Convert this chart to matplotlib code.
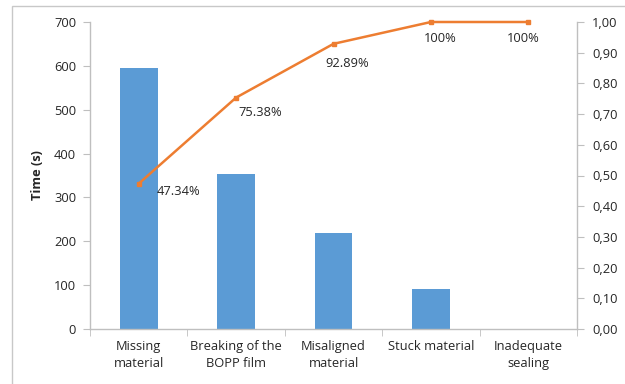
import matplotlib
matplotlib.use("Agg")
import matplotlib.pyplot as plt
from matplotlib.ticker import FuncFormatter, FixedLocator
from matplotlib.patches import Rectangle

categories = ["Missing\nmaterial", "Breaking of the\nBOPP film", "Misaligned\nmaterial",
              "Stuck material", "Inadequate\nsealing"]
times = [596, 353, 218, 92, 0]
cumulative = [0.4734, 0.7538, 0.9289, 1.0, 1.0]
cum_labels = ["47.34%", "75.38%", "92.89%", "100%", "100%"]
left_ticks = [0, 100, 200, 300, 400, 500, 600, 700]
right_ticks = [0.0, 0.1, 0.2, 0.3, 0.4, 0.5, 0.6, 0.7, 0.8, 0.9, 1.0]

# label offsets (points) relative to each marker
label_offsets = [(29, -6), (17, -11), (10, -14), (7, -12), (-4, -12)]

plt.rcParams['font.family'] = ['Open Sans', 'DejaVu Sans']
TXT = "#262626"
AX = "#BFBFBF"
FS = 9.3

fig = plt.figure(figsize=(6.25, 3.84), dpi=100)
fig.patches.append(Rectangle((12 / 625, -0.1), 2, 1.1 - 6 / 384, transform=fig.transFigure,
                             fill=False, edgecolor="#C8C8C8", linewidth=1.0))

ax = fig.add_axes([90 / 625, 1 - 329 / 384, (577 - 90) / 625, (329 - 22) / 384])
x = list(range(len(categories)))
ax.bar(x, times, width=0.39, color="#5B9BD5", zorder=2)
ax.set_xlim(-0.5, len(categories) - 0.5)
ax.set_ylim(0, 700)
ax.set_yticks(left_ticks)
ax.set_xticks(x)
ax.set_xticklabels(categories, fontsize=FS, color=TXT, linespacing=1.35)
ax.xaxis.set_minor_locator(FixedLocator([i - 0.5 for i in range(len(categories) + 1)]))
ax.tick_params(axis="x", which="major", length=0, pad=8)
ax.tick_params(axis="x", which="minor", length=5, color=AX, direction="out")
ax.tick_params(axis="y", length=5, color=AX, labelsize=FS, labelcolor=TXT, pad=5)
for s in ["top", "right"]:
    ax.spines[s].set_visible(False)
for s in ["left", "bottom"]:
    ax.spines[s].set_color(AX)
    ax.spines[s].set_linewidth(1.0)
ax.set_ylabel("Time (s)", fontsize=FS, fontweight="bold", color=TXT, labelpad=7)

ax2 = ax.twinx()
ax2.plot(x, cumulative, color="#ED7D31", linewidth=1.8, marker="s", markersize=3.5,
         zorder=3, clip_on=False)
ax2.set_ylim(0, 1.0)
ax2.set_yticks(right_ticks)
ax2.yaxis.set_major_formatter(FuncFormatter(lambda v, p: f"{v:.2f}".replace(".", ",")))
ax2.tick_params(axis="y", length=5, color=AX, labelsize=FS, labelcolor=TXT, pad=6,
                direction="out")
for s in ["top", "left", "bottom"]:
    ax2.spines[s].set_visible(False)
ax2.spines["right"].set_color(AX)
ax2.spines["right"].set_linewidth(1.0)
ax2.set_zorder(ax.get_zorder() + 1)
ax2.patch.set_visible(False)

for xi, yi, lab, off in zip(x, cumulative, cum_labels, label_offsets):
    ax2.annotate(lab, (xi, yi), xytext=off, textcoords="offset points",
                 ha="center", va="center", fontsize=FS, color=TXT)

fig.savefig("out.png", dpi=100)
